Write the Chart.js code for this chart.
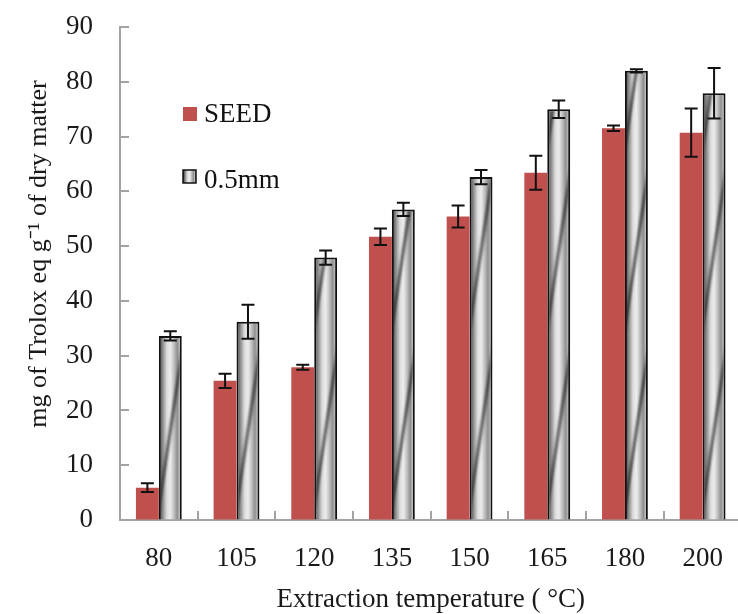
<!DOCTYPE html>
<html>
<head>
<meta charset="utf-8">
<script src="https://cdn.jsdelivr.net/npm/chart.js@4/dist/chart.umd.min.js"></script>
<style>
html,body{margin:0;padding:0;background:#fff;overflow:hidden;}
#wrap{width:746px;height:614px;}
</style>
</head>
<body>
<div id="wrap"><canvas id="c" width="746" height="614"></canvas></div>
<script>
const categories = ['80','105','120','135','150','165','180','200'];
const seedValues = [5.9, 25.4, 27.9, 51.7, 55.4, 63.4, 71.5, 70.7];
const seedErrors = [0.8, 1.3, 0.45, 1.5, 2.0, 3.1, 0.5, 4.4];
const mmValues = [33.6, 36.2, 47.9, 56.7, 62.6, 75.0, 82.0, 77.9];
const mmErrors = [0.85, 3.1, 1.3, 1.2, 1.3, 1.6, 0.3, 4.6];
const yTicks = [0,10,20,30,40,50,60,70,80,90];

const FONT = "'Liberation Serif', 'Times New Roman', serif";
const RED = '#C0504D';
const AXIS = '#a3a3a3';
const CAT_PCT = 0.59;

const patCache = {};
function makePattern(ctx, left, bw, bottom) {
  const key = left.toFixed(2) + '_' + bw.toFixed(2) + '_' + bottom.toFixed(1);
  if (patCache[key]) return patCache[key];
  const H = 180;
  const w = Math.max(2, Math.round(bw));
  const cv = document.createElement('canvas');
  cv.width = w; cv.height = H;
  const g = cv.getContext('2d');
  const grad = g.createLinearGradient(0, 0, w, 0);
  grad.addColorStop(0, '#3a3a3a');
  grad.addColorStop(0.15, '#858585');
  grad.addColorStop(0.35, '#dedede');
  grad.addColorStop(0.5, '#ececec');
  grad.addColorStop(0.65, '#c2c2c2');
  grad.addColorStop(0.8, '#8f8f8f');
  grad.addColorStop(0.92, '#c4c4c4');
  grad.addColorStop(1, '#4a4a4a');
  g.fillStyle = grad;
  g.fillRect(0, 0, w, H);
  g.strokeStyle = 'rgba(25,25,25,0.7)';
  g.lineWidth = 3;
  g.filter = 'blur(0.8px)';
  for (const off of [-H, 0, H]) {
    g.beginPath();
    g.moveTo(-2, H + off);
    g.lineTo(w + 2, 0 + off);
    g.stroke();
  }
  const p = ctx.createPattern(cv, 'repeat');
  try { p.setTransform(new DOMMatrix().translate(left, bottom - H)); } catch (e) {}
  patCache[key] = p;
  return p;
}

function grayFill(c) {
  const chart = c.chart;
  const ca = chart.chartArea;
  const xs = chart.scales && chart.scales.x;
  if (!ca || !xs || c.dataIndex === undefined) return '#c8c8c8';
  const n = chart.data.labels.length;
  const catW = (xs.right - xs.left) / n;
  const bw = catW * CAT_PCT / 2;
  const cx = xs.getPixelForValue(c.dataIndex);
  return makePattern(chart.ctx, cx, bw, ca.bottom);
}

const errorBars = {
  id: 'errorBars',
  afterDatasetsDraw(chart) {
    const ctx = chart.ctx;
    const ys = chart.scales.y;
    const errs = [seedErrors, mmErrors];
    ctx.save();
    ctx.strokeStyle = '#111';
    ctx.lineWidth = 2;
    errs.forEach((arr, di) => {
      const meta = chart.getDatasetMeta(di);
      meta.data.forEach((bar, i) => {
        const v = chart.data.datasets[di].data[i];
        const e = arr[i];
        const yt = ys.getPixelForValue(v + e);
        const yb = ys.getPixelForValue(v - e);
        const x = bar.x;
        ctx.beginPath();
        ctx.moveTo(x, yt); ctx.lineTo(x, yb);
        ctx.moveTo(x - 6.5, yt); ctx.lineTo(x + 6.5, yt);
        ctx.moveTo(x - 6.5, yb); ctx.lineTo(x + 6.5, yb);
        ctx.stroke();
      });
    });
    ctx.restore();
  }
};

const tickMarks = {
  id: 'tickMarks',
  beforeDatasetsDraw(chart) {
    const ctx = chart.ctx;
    const ys = chart.scales.y, xs = chart.scales.x;
    const ca = chart.chartArea;
    ctx.save();
    ctx.strokeStyle = AXIS;
    ctx.lineWidth = 2;
    ctx.beginPath();
    yTicks.forEach(t => {
      const y = Math.round(ys.getPixelForValue(t));
      ctx.moveTo(ca.left, y); ctx.lineTo(ca.left + 9, y);
    });
    const n = chart.data.labels.length;
    const catW = (xs.right - xs.left) / n;
    for (let i = 1; i < n; i++) {
      const x = Math.round(xs.left + i * catW);
      ctx.moveTo(x, ca.bottom); ctx.lineTo(x, ca.bottom - 9);
    }
    ctx.stroke();
    ctx.restore();
  }
};

const customLegend = {
  id: 'customLegend',
  afterDraw(chart) {
    const ctx = chart.ctx;
    const ca = chart.chartArea;
    const x = ca.left + 63;
    ctx.save();
    ctx.font = '27px ' + FONT;
    ctx.textBaseline = 'alphabetic';
    ctx.fillStyle = chart.data.datasets[0].backgroundColor;
    ctx.fillRect(x, ca.top + 80, 14, 14);
    ctx.fillStyle = '#111';
    ctx.fillText(chart.data.datasets[0].label, x + 21, ca.top + 95);
    ctx.fillStyle = makePattern(ctx, x, 13, ca.top + 156);
    ctx.fillRect(x, ca.top + 143, 13, 13);
    ctx.strokeStyle = '#111';
    ctx.lineWidth = 1.5;
    ctx.strokeRect(x, ca.top + 143, 13, 13);
    ctx.fillStyle = '#111';
    ctx.fillText(chart.data.datasets[1].label, x + 21, ca.top + 161);
    ctx.restore();
  }
};

new Chart(document.getElementById('c'), {
  type: 'bar',
  data: {
    labels: categories,
    datasets: [
      { label: 'SEED', data: seedValues, backgroundColor: RED, borderWidth: 0,
        categoryPercentage: CAT_PCT, barPercentage: 1.0 },
      { label: '0.5mm', data: mmValues, backgroundColor: grayFill, borderColor: '#111', borderWidth: 2,
        categoryPercentage: CAT_PCT, barPercentage: 1.0 }
    ]
  },
  options: {
    responsive: false,
    animation: false,
    layout: { padding: { left: 0, right: 2, top: 27, bottom: 0 } },
    plugins: { legend: { display: false }, tooltip: { enabled: false } },
    scales: {
      x: {
        offset: true,
        grid: { display: true, drawOnChartArea: false, drawTicks: false },
        border: { display: true, color: AXIS, width: 2 },
        ticks: { color: '#1a1a1a', font: { family: FONT, size: 27 }, padding: 23, maxRotation: 0, autoSkip: false },
        title: { display: true, text: 'Extraction temperature ( °C)', color: '#1a1a1a',
                 font: { family: FONT, size: 27, lineHeight: 1 }, padding: { top: 0, bottom: 1 } },
        afterFit(s) { s.height = 94; }
      },
      y: {
        min: 0, max: 90,
        grid: { display: true, drawOnChartArea: false, drawTicks: true, tickLength: 27, tickColor: 'rgba(0,0,0,0)' },
        border: { display: true, color: AXIS, width: 2 },
        ticks: { stepSize: 10, color: '#1a1a1a', font: { family: FONT, size: 27 }, padding: 0 },
        title: { display: true, text: '\u00a0\u00a0\u00a0\u00a0\u00a0\u00a0mg of Trolox eq g\u207b\u00b9 of dry matter', color: '#1a1a1a',
                 font: { family: FONT, size: 26, lineHeight: 1 }, padding: { top: 26, bottom: 0 } },
        afterFit(s) { s.width = 120; }
      }
    }
  },
  plugins: [tickMarks, errorBars, customLegend]
});
</script>
</body>
</html>
